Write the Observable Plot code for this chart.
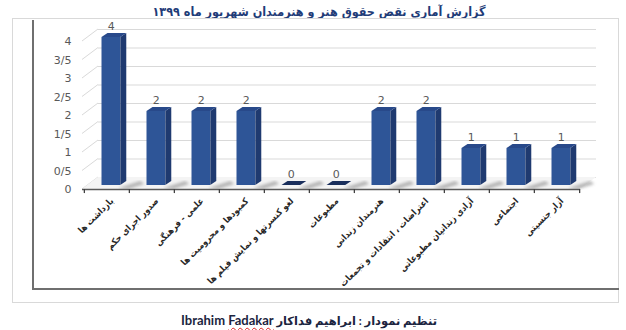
<!DOCTYPE html>
<html><head><meta charset="utf-8">
<script src="https://cdn.jsdelivr.net/npm/d3@7"></script>
<script src="https://cdn.jsdelivr.net/npm/@observablehq/plot@0.6"></script>
<style>
body{margin:0;background:#fff;}
#wrap{position:relative;width:626px;height:330px;overflow:hidden;font-family:"DejaVu Sans",sans-serif;}
#title{height:18px;line-height:23px;font-weight:bold;font-size:12.5px;color:#1F3C78;white-space:nowrap;position:relative;font-family:"DejaVu Sans Condensed","DejaVu Sans",sans-serif;}
#title span{position:absolute;left:69px;width:500px;top:0;text-align:center;direction:rtl;}
#chart svg{display:block;}
#footer{height:28px;line-height:36px;font-weight:bold;font-size:11.5px;color:#1c2540;white-space:nowrap;font-family:"Lato","DejaVu Sans",sans-serif;position:relative;}
#footer > span{position:absolute;left:59px;width:500px;top:0;text-align:center;direction:rtl;}
#footer .lat{font-size:13px;}
#footer .wavy{text-decoration:underline wavy #e02020;text-decoration-thickness:1px;text-underline-offset:2px;}
.frame{position:absolute;pointer-events:none;box-sizing:border-box;}
</style></head>
<body>
<div id="wrap">
  <div id="title"><span>گزارش آماری نقض حقوق هنر و هنرمندان شهریور ماه ۱۳۹۹</span></div>
  <div id="chart"></div>
  <div id="footer"><span>تنظیم نمودار : ابراهیم فداکار <span dir="ltr" class="lat">Ibrahim <span class="wavy">Fadakar</span></span></span></div>
  <div class="frame" style="left:12px;top:18px;width:607px;height:285px;border:1px solid #d9d9d9;"></div>
  <div class="frame" style="left:32px;top:20px;width:587px;height:270px;border-left:2px solid #6f6f6f;border-bottom:2px solid #6f6f6f;"></div>
</div>
<script>
const categories = ["بازداشت ها","صدور اجرای حکم","علمی - فرهنگی","کمبودها و محرومیت ها","لغو کنسرتها و نمایش فیلم ها","مطبوعات","هنرمندان زندانی","اعتراضات ، انتقادات و تجمعات","آزادی زندانیان مطبوعاتی","اجتماعی","آزار جنسیتی"];
const counts = [4,2,2,2,0,0,2,2,1,1,1];
const yTicks = [0,0.5,1,1.5,2,2.5,3,3.5,4];
const yTickLabels = ["0","0/5","1","1/5","2","2/5","3","3/5","4"];

const data = categories.map((c,i)=>({cat:c, v:counts[i]}));
const W = 626, H = 284;
const ML = 82, MR = 46, MT = 23, MB = 113;
const BW = (W - ML - MR) / categories.length;
const IL = 17.5, IR = 9, LIFT = 4, DX = 6, DY = 4;
const WALLX = 16, WALLY = -12;

function wallDiagonals(index, scales, values, dims) {
  const g = d3.create("svg:g").attr("stroke", "#d9d9d9").attr("fill", "none");
  yTicks.forEach(t => {
    const y = scales.y(t);
    g.append("line").attr("x1", dims.marginLeft).attr("y1", y)
      .attr("x2", dims.marginLeft + WALLX).attr("y2", y + WALLY);
  });
  return g.node();
}

function floor(index, scales, values, dims) {
  const g = d3.create("svg:g");
  const defs = g.append("defs");
  defs.append("filter").attr("id", "blur").append("feGaussianBlur").attr("stdDeviation", 1.6);
  const y0 = scales.y(0);
  const xl = dims.marginLeft, xr = dims.width - dims.marginRight;
  g.append("path")
    .attr("d", `M${xl},${y0}L${xl + WALLX},${y0 + WALLY}L${xr + WALLX},${y0 + WALLY}L${xr},${y0}Z`)
    .attr("fill", "#f4f4f4");
  data.forEach(d => {
    const xs = scales.x(d.cat);
    const x1 = xs + BW - IR;
    const yb = y0 - LIFT;
    g.append("path")
      .attr("d", `M${x1 - 2},${yb + 3}L${x1 + DX + 14},${yb - DY}L${x1 + DX + 18},${yb - DY + 3}L${x1 + 8},${yb + 4}Z`)
      .attr("fill", "#9a9a9a").attr("opacity", 0.7).attr("filter", "url(#blur)");
  });
  return g.node();
}

function faces(index, scales, values, dims) {
  const g = d3.create("svg:g");
  const y0 = scales.y(0);
  data.forEach(d => {
    const xs = scales.x(d.cat);
    const x0 = xs + IL, x1 = xs + BW - IR;
    const yt = scales.y(d.v) - LIFT, yb = y0 - LIFT;
    if (d.v > 0) {
      g.append("path")
        .attr("d", `M${x1},${yt}L${x1 + DX},${yt - DY}L${x1 + DX},${yb - DY}L${x1},${yb}Z`)
        .attr("fill", "#1F3A70");
    }
    g.append("path")
      .attr("d", `M${x0},${yt}L${x0 + DX},${yt - DY}L${x1 + DX},${yt - DY}L${x1},${yt}Z`)
      .attr("fill", d.v > 0 ? "#28498a" : "#1a2f5c");
  });
  return g.node();
}

const chart = Plot.plot({
  width: W, height: H,
  marginLeft: ML, marginRight: MR, marginTop: MT, marginBottom: MB,
  style: {background: "transparent", fontFamily: "DejaVu Sans, sans-serif", overflow: "visible"},
  x: {type: "band", domain: categories, padding: 0, axis: null},
  y: {domain: [0, 4], axis: null},
  marks: [
    Plot.ruleY(yTicks, {dx: WALLX, dy: WALLY, stroke: "#d9d9d9"}),
    wallDiagonals,
    floor,
    Plot.axisY({ticks: yTicks, tickFormat: d => yTickLabels[yTicks.indexOf(d)], tickSize: 0, tickPadding: 11, fontSize: 11, color: "#595959", label: null}),
    Plot.barY(data, {x: "cat", y: "v", fill: "#2E5597", insetLeft: IL, insetRight: IR, dy: -LIFT}),
    faces,
    Plot.text(data, {x: "cat", y: "v", text: d => String(d.v), dx: 4.3, dy: -15, fill: "#595959", fontSize: 11}),
    Plot.ruleY([0], {stroke: "#595959", strokeWidth: 1.5}),
    Plot.ruleX(categories, {x: d => d, y1: 0, y2: -0.11, dx: -BW / 2, stroke: "#404040", strokeWidth: 1.3}),
    Plot.ruleX([categories[categories.length - 1]], {x: d => d, y1: 0, y2: -0.11, dx: BW / 2, stroke: "#404040", strokeWidth: 1.3}),
    Plot.text(data, {x: "cat", y: d => 0, text: "cat", rotate: -45, textAnchor: "end", dx: 5, dy: 10, fontSize: 9, fontWeight: "bold", fill: "#262626", fontFamily: "'DejaVu Sans Condensed', 'DejaVu Sans', sans-serif"})
  ]
});
document.getElementById("chart").appendChild(chart);
</script>
</body></html>
